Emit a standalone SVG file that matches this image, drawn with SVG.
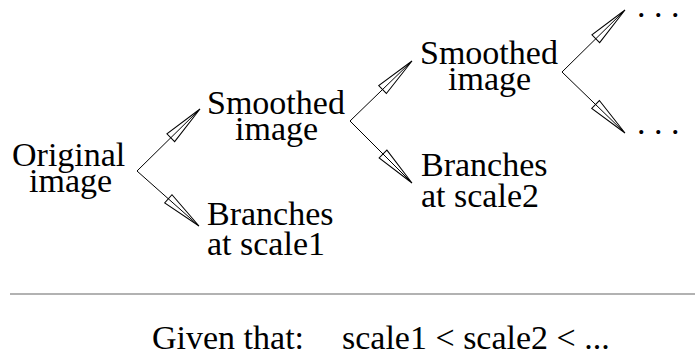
<svg xmlns="http://www.w3.org/2000/svg" width="695" height="361" viewBox="0 0 695 361">
  <style>
    text { font-family: "Liberation Serif", "Times New Roman", serif; font-size: 34px; fill: #000; }
    .edge { stroke: #000; stroke-width: 1; fill: none; marker-end: url(#arr); }
    .rule { stroke: #999; stroke-width: 1.3; }
  </style>
  <defs>
    <marker id="arr" viewBox="-44 -8 46 16" refX="0" refY="0" markerWidth="46" markerHeight="16" markerUnits="userSpaceOnUse" orient="auto" overflow="visible">
      <path d="M0,0 L-41,-5.5 L-41,5.5 Z" fill="none" stroke="#000" stroke-width="1" stroke-linejoin="miter"/>
    </marker>
  </defs>
  <rect width="695" height="361" fill="#fff"/>

  <g id="n-original">
    <text x="12" y="166">Original</text>
    <text x="29" y="192">image</text>
  </g>
  <g id="n-smoothed1">
    <text x="207" y="114">Smoothed</text>
    <text x="235" y="140">image</text>
  </g>
  <g id="n-branches1">
    <text x="207" y="225">Branches</text>
    <text x="207" y="255">at scale1</text>
  </g>
  <g id="n-smoothed2">
    <text x="420" y="64">Smoothed</text>
    <text x="448" y="90">image</text>
  </g>
  <g id="n-branches2">
    <text x="421" y="176">Branches</text>
    <text x="421" y="207">at scale2</text>
  </g>
  <g id="n-more-up">
    <text x="637" y="17">. . .</text>
  </g>
  <g id="n-more-down">
    <text x="637" y="134">. . .</text>
  </g>

  <g id="connectors">
    <line class="edge" x1="137" y1="171" x2="200" y2="109"/>
    <line class="edge" x1="137" y1="171" x2="199" y2="226"/>
    <line class="edge" x1="350" y1="121" x2="412" y2="61"/>
    <line class="edge" x1="350" y1="121" x2="412" y2="183"/>
    <line class="edge" x1="562" y1="72" x2="625" y2="10"/>
    <line class="edge" x1="562" y1="72" x2="625" y2="133"/>
  </g>

  <g id="footer">
    <line class="rule" x1="10" y1="294" x2="695" y2="294"/>
    <text x="152" y="349">Given that:</text>
    <text x="342" y="349">scale1 &lt; scale2 &lt; ...</text>
  </g>
</svg>
